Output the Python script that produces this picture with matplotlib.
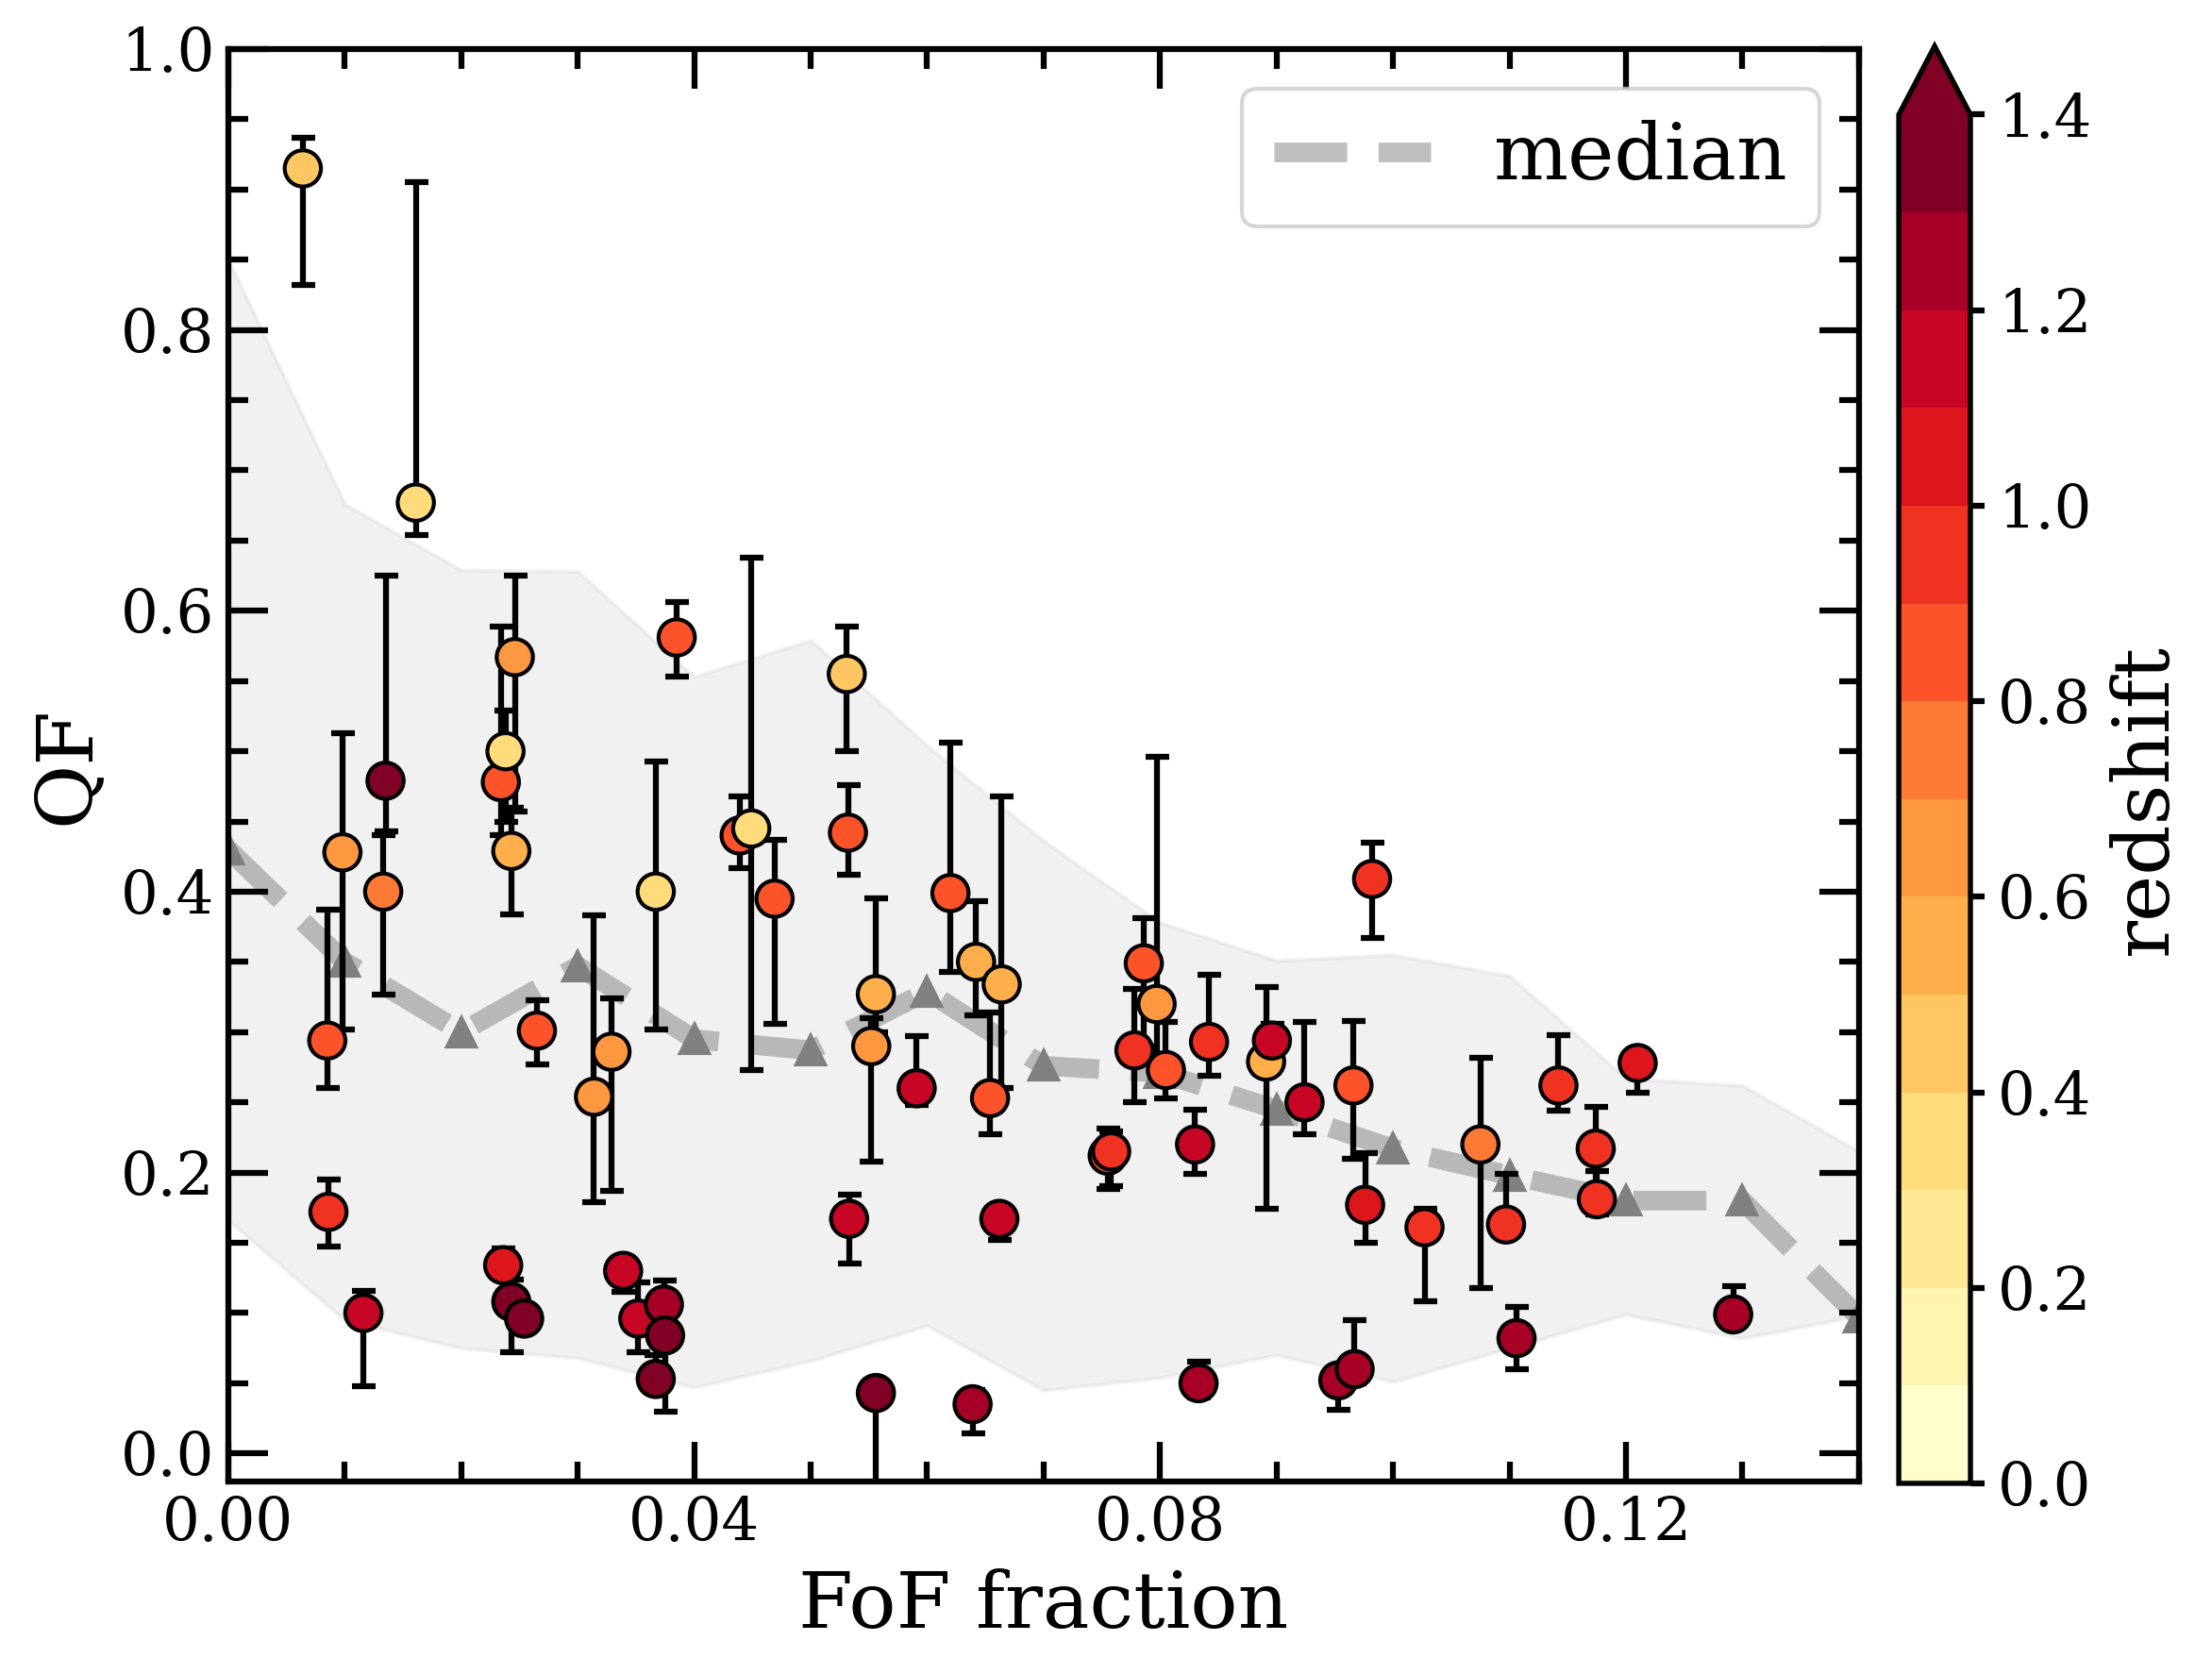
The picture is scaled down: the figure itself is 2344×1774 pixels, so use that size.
import numpy as np
import matplotlib
matplotlib.use("Agg")
import matplotlib.pyplot as plt
from matplotlib.colors import Normalize
from matplotlib.ticker import MultipleLocator, FormatStrFormatter

# ---------------- data ----------------
fof = [0.0064, 0.0161, 0.0085, 0.0086, 0.0098, 0.0116, 0.0133, 0.0135,
       0.0265, 0.0236, 0.0243, 0.0254, 0.0234, 0.0238, 0.0246, 0.0243,
       0.0314, 0.0329, 0.0339, 0.0352, 0.0374, 0.0375, 0.0367, 0.0367,
       0.0385, 0.0439, 0.0449, 0.0469, 0.0531, 0.0532, 0.0533, 0.0556,
       0.0556, 0.0552, 0.0591, 0.0620, 0.0642, 0.0664, 0.0654, 0.0662,
       0.0639, 0.0755, 0.0758, 0.0778, 0.0786, 0.0797, 0.0805, 0.0842,
       0.0830, 0.0833, 0.0891, 0.0896, 0.0924, 0.0953, 0.0967, 0.0966,
       0.0976, 0.0982, 0.1027, 0.1075, 0.1097, 0.1106, 0.1142, 0.1174,
       0.1175, 0.1210, 0.1292]
qf = [0.915, 0.677, 0.294, 0.172, 0.428, 0.100, 0.400, 0.479,
      0.301, 0.134, 0.108, 0.096, 0.478, 0.500, 0.567, 0.429,
      0.254, 0.286, 0.130, 0.096, 0.106, 0.084, 0.053, 0.400,
      0.581, 0.440, 0.445, 0.395, 0.555, 0.442, 0.167, 0.043,
      0.327, 0.290, 0.260, 0.399, 0.350, 0.334, 0.253, 0.167,
      0.035, 0.212, 0.215, 0.287, 0.349, 0.320, 0.273, 0.293,
      0.220, 0.050, 0.279, 0.294, 0.250, 0.052, 0.060, 0.262,
      0.177, 0.409, 0.161, 0.220, 0.163, 0.082, 0.262, 0.217,
      0.181, 0.278, 0.099]
qf_lo = [0.832, 0.654, 0.260, 0.147, 0.302, 0.048, 0.327, 0.443,
         0.277, 0.125, 0.072, 0.090, 0.440, 0.450, 0.457, 0.384,
         0.179, 0.187, 0.115, 0.072, 0.090, 0.030, 0.045, 0.302,
         0.553, 0.417, 0.273, 0.306, 0.500, 0.412, 0.135, -0.050,
         0.300, 0.208, 0.248, 0.343, 0.312, 0.260, 0.227, 0.152,
         0.014, 0.188, 0.190, 0.250, 0.290, 0.283, 0.253, 0.269,
         0.199, 0.040, 0.174, 0.280, 0.227, 0.031, 0.050, 0.210,
         0.150, 0.367, 0.108, 0.118, 0.155, 0.060, 0.244, 0.190,
         0.170, 0.257, 0.090]
qf_hi = [0.937, 0.905, 0.387, 0.195, 0.513, 0.116, 0.440, 0.625,
         0.323, 0.146, 0.124, 0.100, 0.589, 0.529, 0.625, 0.460,
         0.383, 0.324, 0.140, 0.122, 0.123, 0.095, 0.070, 0.493,
         0.606, 0.468, 0.638, 0.437, 0.589, 0.476, 0.184, 0.045,
         0.395, 0.310, 0.297, 0.506, 0.393, 0.468, 0.314, 0.170,
         0.045, 0.231, 0.229, 0.331, 0.381, 0.496, 0.307, 0.341,
         0.245, 0.065, 0.332, 0.306, 0.307, 0.060, 0.095, 0.308,
         0.214, 0.435, 0.174, 0.282, 0.199, 0.104, 0.298, 0.247,
         0.201, 0.288, 0.119]
redshift = [0.45, 0.35, 0.85, 0.95, 0.65, 1.15, 0.75, 1.35,
            0.85, 1.05, 1.35, 1.35, 0.85, 0.35, 0.65, 0.55,
            0.65, 0.65, 1.15, 1.15, 1.25, 1.35, 1.35, 0.35,
            0.85, 0.85, 0.35, 0.85, 0.45, 0.85, 1.15, 1.35,
            0.55, 0.65, 1.15, 0.85, 0.55, 0.55, 0.85, 1.15,
            1.25, 0.85, 0.95, 0.95, 0.85, 0.65, 0.85, 0.95,
            1.15, 1.25, 0.55, 1.15, 1.15, 1.25, 1.25, 0.85,
            1.05, 0.95, 0.95, 0.75, 0.95, 1.25, 0.95, 0.95,
            0.95, 1.05, 1.25]

med_x = [0.00, 0.01, 0.02, 0.03, 0.04, 0.05, 0.06, 0.07,
         0.08, 0.09, 0.10, 0.11, 0.12, 0.13, 0.14]
med_y = [0.430, 0.350, 0.300, 0.347, 0.295, 0.287, 0.329, 0.276,
         0.271, 0.245, 0.217, 0.198, 0.180, 0.180, 0.097]
band_lo = [0.166, 0.095, 0.075, 0.068, 0.047, 0.066, 0.091, 0.045,
           0.054, 0.070, 0.051, 0.075, 0.099, 0.082, 0.098]
band_hi = [0.850, 0.676, 0.629, 0.628, 0.553, 0.579, 0.504, 0.436,
           0.378, 0.351, 0.355, 0.340, 0.267, 0.262, 0.215]

x_ticks = [0.00, 0.04, 0.08, 0.12]
y_ticks = [0.0, 0.2, 0.4, 0.6, 0.8, 1.0]
cb_ticks = [0.0, 0.2, 0.4, 0.6, 0.8, 1.0, 1.2, 1.4]

# ---------------- plot ----------------
plt.rcParams['font.family'] = ['DejaVu Serif']
plt.rcParams['mathtext.fontset'] = 'dejavuserif'

fig = plt.figure(figsize=(2344 / 300, 1774 / 300), dpi=300)
ax = fig.add_axes([0.1032, 0.115, 0.7372, 0.8557])

fof_a = np.array(fof)
qf_a = np.array(qf)
yerr = [qf_a - np.array(qf_lo), np.array(qf_hi) - qf_a]

ax.fill_between(med_x, band_lo, band_hi, color='lightgray', alpha=0.3,
                zorder=0)
ax.plot(med_x, med_y, ls='--', color='gray', alpha=0.5, lw=5,
        label='median', zorder=1)
ax.plot(med_x, med_y, ls='none', marker='^', color='gray', ms=7, zorder=1.5)

ax.errorbar(fof_a, qf_a, yerr=yerr, fmt='none', ecolor='k',
            elinewidth=1.5, capsize=3, capthick=1.5, zorder=2)

cmap = plt.get_cmap('YlOrRd', 14)
norm = Normalize(vmin=0.0, vmax=1.4)
sc = ax.scatter(fof_a, qf_a, c=redshift, cmap=cmap, norm=norm, s=85,
                edgecolors='k', linewidths=1.0, zorder=3)

ax.set_xlim(0, 0.14)
ax.set_ylim(-0.02, 1.0)
ax.set_xticks(x_ticks)
ax.set_yticks(y_ticks)
ax.xaxis.set_major_formatter(FormatStrFormatter('%.2f'))
ax.yaxis.set_major_formatter(FormatStrFormatter('%.1f'))
ax.xaxis.set_minor_locator(MultipleLocator(0.01))
ax.yaxis.set_minor_locator(MultipleLocator(0.05))
ax.tick_params(which='both', direction='in', top=True, right=True,
               width=1.5, labelsize=15)
ax.tick_params(which='major', length=10)
ax.tick_params(which='minor', length=5)
for s in ax.spines.values():
    s.set_linewidth(1.5)

ax.set_xlabel('FoF fraction', fontsize=20)
ax.set_ylabel('QF', fontsize=20)

ax.legend(loc='upper right', fontsize=20)

cax = fig.add_axes([0.8584, 0.1139, 0.0324, 0.8585])
cb = fig.colorbar(sc, cax=cax, extend='max')
cb.set_ticks(cb_ticks)
cb.ax.yaxis.set_major_formatter(FormatStrFormatter('%.1f'))
cb.ax.tick_params(labelsize=15, width=1.5, length=3.5)
cb.outline.set_linewidth(1.3)
cb.set_label('redshift', fontsize=20)

fig.savefig('out.png', dpi=300)
